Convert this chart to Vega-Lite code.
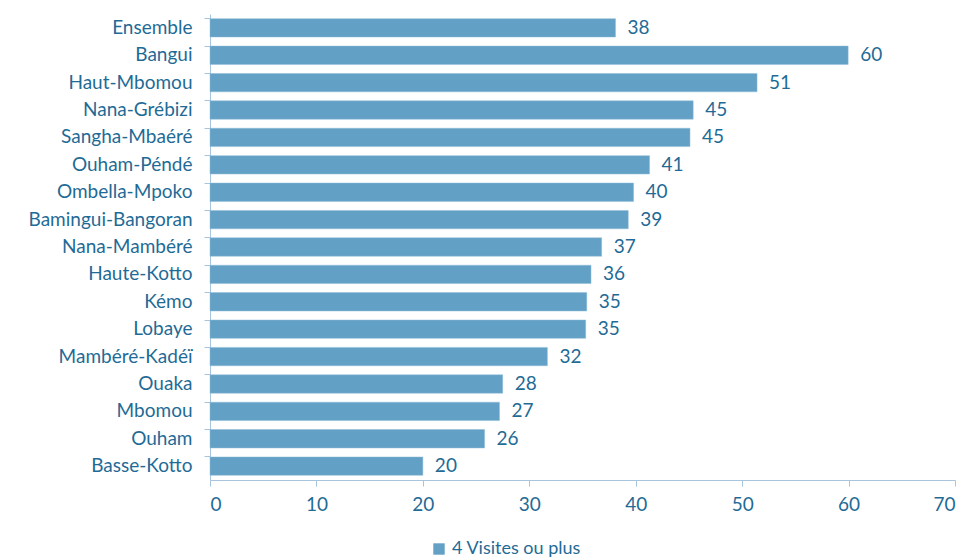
{
  "$schema": "https://vega.github.io/schema/vega-lite/v6.json",
  "autosize": "none",
  "width": 745,
  "height": 466,
  "padding": {"left": 210, "top": 14, "right": 14, "bottom": 80},
  "background": "white",
  "config": {"view": {"stroke": null}, "font": "Lato"},
  "data": {"values": [
    {"region": "Ensemble ", "value": 38.1},
    {"region": "Bangui", "value": 59.96},
    {"region": "Haut-Mbomou", "value": 51.4},
    {"region": "Nana-Grébizi", "value": 45.4},
    {"region": "Sangha-Mbaéré", "value": 45.1},
    {"region": "Ouham-Péndé", "value": 41.3},
    {"region": "Ombella-Mpoko", "value": 39.8},
    {"region": "Bamingui-Bangoran", "value": 39.3},
    {"region": "Nana-Mambéré", "value": 36.8},
    {"region": "Haute-Kotto", "value": 35.8},
    {"region": "Kémo", "value": 35.4},
    {"region": "Lobaye", "value": 35.3},
    {"region": "Mambéré-Kadéï", "value": 31.7},
    {"region": "Ouaka", "value": 27.5},
    {"region": "Mbomou", "value": 27.2},
    {"region": "Ouham", "value": 25.8},
    {"region": "Basse-Kotto", "value": 20.0}
  ]},
  "encoding": {
    "y": {"field": "region", "type": "nominal", "sort": null,
      "scale": {"paddingInner": 0.33, "paddingOuter": 0.17},
      "axis": {"title": null, "bandPosition": 0, "domainColor": "#a9c5dd", "tickColor": "#a9c5dd", "tickSize": 6,
        "labelColor": "#1f6b96", "labelFontSize": 19, "labelPadding": 12, "labelFont": "Lato"}},
    "x": {"field": "value", "type": "quantitative",
      "scale": {"domain": [0, 70]},
      "axis": {"title": null, "values": [0,10,20,30,40,50,60,70], "grid": false, "domainColor": "#a9c5dd", "tickColor": "#a9c5dd", "tickSize": 6,
        "labelColor": "#1f6b96", "labelFontSize": 19, "labelPadding": 9, "labelFont": "Lato"}}
  },
  "layer": [
    {"mark": {"type": "bar", "stroke": "#8fbcd8", "strokeWidth": 0.5},
      "encoding": {"color": {"datum": "4 Visites ou plus", "scale": {"range": ["#62a0c5"]},
        "legend": {"title": null, "orient": "none", "legendX": 220, "legendY": 526, "symbolType": "square", "symbolSize": 130,
          "labelColor": "#1f6b96", "labelFontSize": 18, "labelFont": "Lato", "symbolStrokeWidth": 0}}}},
    {"mark": {"type": "text", "align": "left", "dx": 12, "fontSize": 19, "color": "#1f6b96", "font": "Lato"},
      "encoding": {"text": {"field": "value", "type": "quantitative", "format": ".0f"}}}
  ]
}
